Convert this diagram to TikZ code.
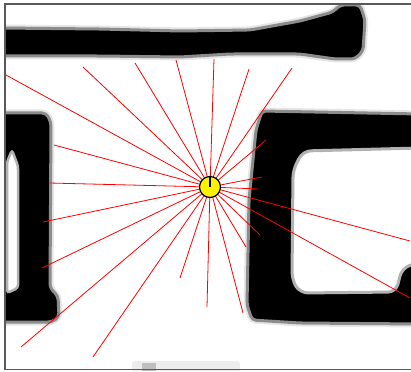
\documentclass[tikz,border=0pt]{standalone}
\begin{document}
\begin{tikzpicture}[x=1pt, y=-1pt,
    ink/.style={fill=black, draw=black!45, line width=3pt, rounded corners=4pt,
      preaction={draw=black!10, line width=7pt}},
    hole/.style={fill=white, draw=black!30, line width=3pt, rounded corners=8pt},
    ray/.style={red, line width=0.8pt},
    bot/.style={circle, fill=yellow, draw=black, line width=1.2pt, minimum size=21pt, inner sep=0pt},
    frame/.style={draw=black!65, line width=1.2pt}]
    \useasboundingbox (0,0) rectangle (411,371);

    % Scanned strokes (blurry ink), clipped to the frame
    \begin{scope}
        \clip (5,4) rectangle (411,370);
        % top stroke with hook on the right
        \path[ink] (0,28) -- (100,29) -- (180,31) -- (250,30) -- (300,21) -- (333,12)
            -- (340,5) -- (360,5) -- (365,20) -- (363,51) -- (355,59) -- (335,59)
            -- (300,54) -- (230,54) -- (180,57) -- (100,56) -- (0,56) -- cycle;
        % left vertical stroke
        \path[ink] (0,113) -- (46,113) -- (51,122) -- (50,288) -- (58,296) -- (59,317)
            -- (52,322) -- (0,322) -- cycle;
        \path[hole, line width=2.5pt, rounded corners=3pt] (7,162) -- (12,150) -- (18,166)
            -- (18,288) -- (7,293) -- cycle;
        % right box
        \path[ink] (262,111) -- (420,114) -- (420,324) -- (300,323) -- (252,320)
            -- (247,305) -- (249,200) -- (256,130) -- cycle;
        \path[hole] (293,170) -- (303,151) -- (420,148) -- (420,262) -- (402,268)
            -- (396,292) -- (300,293) -- (292,280) -- cycle;
        % faint smudge at the bottom edge
        \fill[black!7, rounded corners=3pt] (132,361) rectangle (240,372);
        \fill[black!25] (142,363) rectangle (156,372);
    \end{scope}

    % Range rays from the agent
    \coordinate (agentpos) at (210,187);
    \foreach \x/\y [count=\i] in {6/75, 83/67, 135/63, 176/60, 214/59, 249/69, 292/68,
        266/140, 262/177, 258/189, 410/241, 410/298, 260/235, 246/247, 243/313,
        207/307, 180/278, 93/357, 21/347, 42/268, 43/222, 49/183, 54/145}
        \coordinate (hit\i) at (\x,\y);
    \foreach \i in {1,...,23}
        \draw[ray] (agentpos) -- (hit\i);

    % Agent with heading
    \node[bot] (agent) at (agentpos) {};
    \draw[line width=1.2pt] (agent.center) -- (agent.north);

    % Frame
    \draw[frame] (412,4) -- (5,4) -- (5,369.5) -- (412,369.5);
\end{tikzpicture}
\end{document}
